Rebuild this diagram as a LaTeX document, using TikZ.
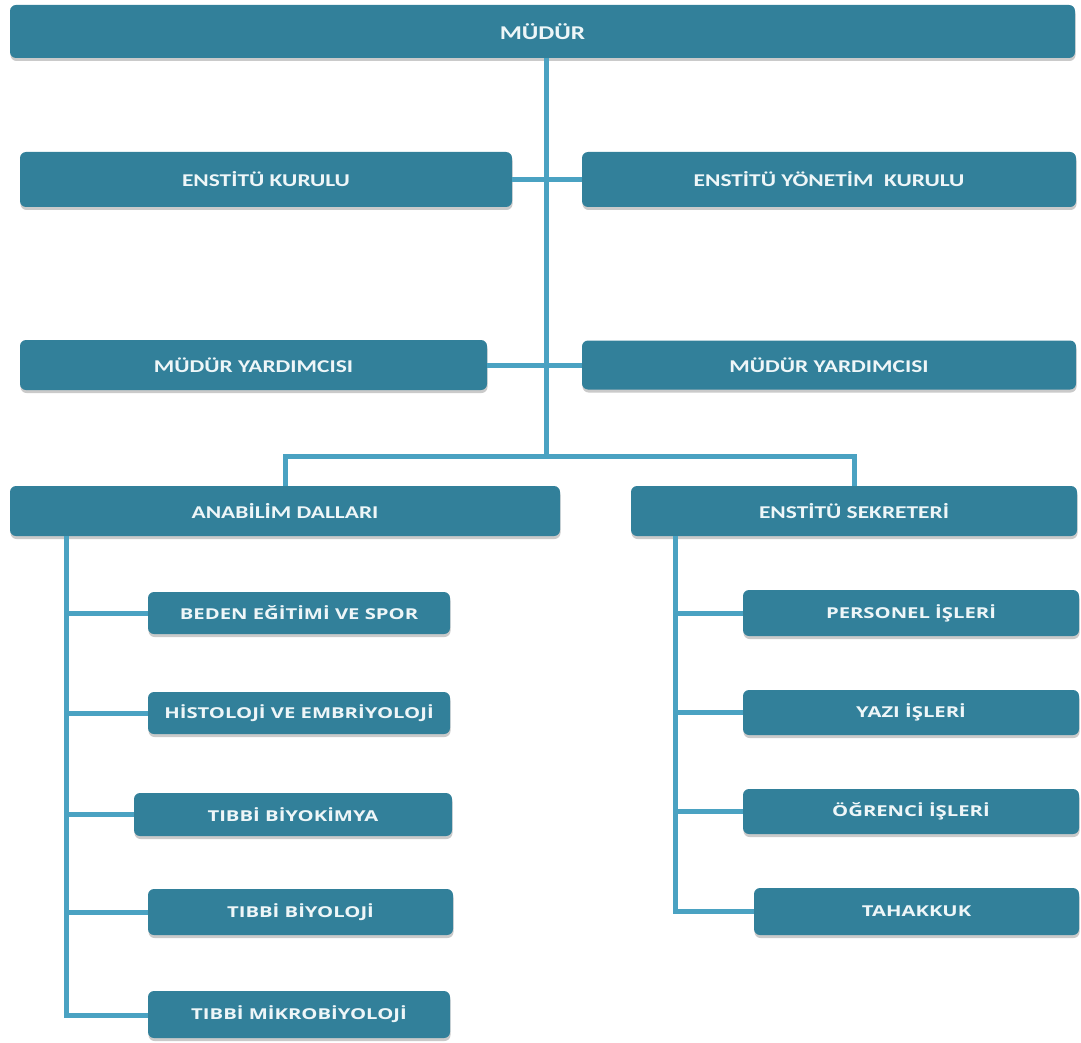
\documentclass[tikz,border=0pt]{standalone}
\usepackage{fontspec}
\setmainfont{Carlito}
\newfontfamily\topfont[FakeStretch=1.3]{Carlito}
\newfontfamily\widesans[FakeStretch=1.35]{Open Sans}
\usetikzlibrary{shadows}
\definecolor{boxfill}{HTML}{32809A}
\definecolor{linecol}{HTML}{4AA2C2}
\definecolor{txtcol}{HTML}{EEF6F8}
\tikzset{
  orgbox/.style={fill=boxfill, rounded corners=6pt, text=txtcol, inner sep=0pt,
    drop shadow={shadow xshift=0.5pt, shadow yshift=-3pt, opacity=0.35, fill=black!60}},
  topbox/.style={orgbox, font=\topfont\fontsize{18}{22}\selectfont\bfseries},
  subbox/.style={orgbox, font=\widesans\fontsize{15}{18}\selectfont\bfseries},
  conn/.style={draw=linecol, line width=5pt}
}
\begin{document}
\begin{tikzpicture}[x=1pt,y=-1pt]
\useasboundingbox (0,0) rectangle (1081,1043);
% top level
\node[topbox, minimum width=1065, minimum height=53, font=\topfont\fontsize{19.5}{24}\selectfont\bfseries] (mudur) at (542.5,31.5) {MÜDÜR};
\node[topbox, minimum width=492, minimum height=55] (ek) at (266,179.5) {ENSTİTÜ KURULU};
\node[topbox, minimum width=494, minimum height=55] (eyk) at (829,179.5) {ENSTİTÜ YÖNETİM\ \ KURULU};
\node[topbox, minimum width=467, minimum height=50] (my1) at (253.5,365) {MÜDÜR YARDIMCISI};
\node[topbox, minimum width=494, minimum height=49] (my2) at (829,365) {MÜDÜR YARDIMCISI};
\node[topbox, minimum width=550, minimum height=50] (ana) at (285,511) {ANABİLİM DALLARI};
\node[topbox, minimum width=446, minimum height=50] (sek) at (854,511) {ENSTİTÜ SEKRETERİ};
% left children
\node[subbox, minimum width=302, minimum height=42] (beden) at (299,613) {BEDEN EĞİTİMİ VE SPOR};
\node[subbox, minimum width=302, minimum height=42] (hist) at (299,713) {HİSTOLOJİ VE EMBRİYOLOJİ};
\node[subbox, minimum width=318, minimum height=43] (biyok) at (293,814.5) {TIBBİ BİYOKİMYA};
\node[subbox, minimum width=305, minimum height=46] (biyol) at (300.5,912) {TIBBİ BİYOLOJİ};
\node[subbox, minimum width=302, minimum height=47] (mikro) at (299,1014.5) {TIBBİ MİKROBİYOLOJİ};
% right children
\node[subbox, minimum width=336, minimum height=46] (pers) at (911,613) {PERSONEL İŞLERİ};
\node[subbox, minimum width=336, minimum height=45] (yazi) at (911,712.5) {YAZI İŞLERİ};
\node[subbox, minimum width=336, minimum height=45] (ogr) at (911,811.5) {ÖĞRENCİ İŞLERİ};
\node[subbox, minimum width=325, minimum height=47] (tah) at (916.5,911.5) {TAHAKKUK};
% junction coordinates
\coordinate (bus) at (546,456);
\coordinate (lt) at (66,1015);
\coordinate (rt) at (675,911);
% connectors
\draw[conn] (mudur.south -| bus) -- (bus);
\draw[conn] (ek.east) -- (eyk.west);
\draw[conn] (my1.east) -- (my2.west);
\draw[conn] (ana.north) |- (bus) -| (sek.north);
\draw[conn] (ana.south -| lt) -- (lt) -- (lt -| mikro.west);
\draw[conn] (beden.west -| lt) -- (beden.west);
\draw[conn] (hist.west -| lt) -- (hist.west);
\draw[conn] (biyok.west -| lt) -- (biyok.west);
\draw[conn] (biyol.west -| lt) -- (biyol.west);
\draw[conn] (sek.south -| rt) -- (rt) -- (rt -| tah.west);
\draw[conn] (pers.west -| rt) -- (pers.west);
\draw[conn] (yazi.west -| rt) -- (yazi.west);
\draw[conn] (ogr.west -| rt) -- (ogr.west);
\end{tikzpicture}
\end{document}
